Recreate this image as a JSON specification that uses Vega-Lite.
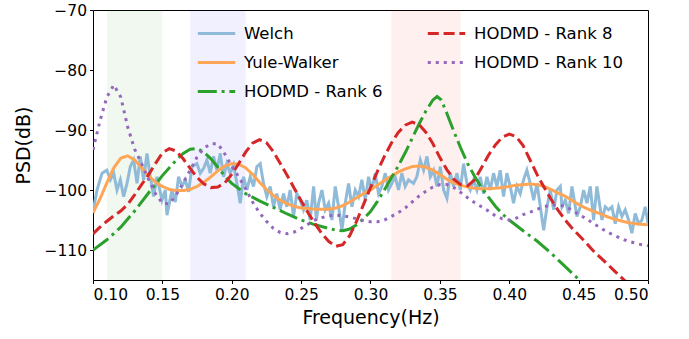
{
  "$schema": "https://vega.github.io/schema/vega-lite/v6.json",
  "width": 555,
  "height": 270,
  "autosize": {"type": "none"},
  "padding": {"left": 93, "top": 10, "right": 41, "bottom": 59},
  "background": "white",
  "config": {
    "font": "DejaVu Sans",
    "view": {"stroke": "#000", "strokeWidth": 1},
    "axis": {
      "domain": false,
      "grid": false,
      "ticks": true,
      "tickColor": "#000",
      "tickSize": 3.5,
      "tickWidth": 1,
      "labelFontSize": 15.5,
      "labelColor": "#000",
      "labelFont": "DejaVu Sans",
      "titleFont": "DejaVu Sans",
      "titleFontSize": 19,
      "titleFontWeight": "normal",
      "titleColor": "#000"
    }
  },
  "datasets": {
    "bands": [
      {"band": "g", "f0": 0.11, "f1": 0.15},
      {"band": "b", "f0": 0.17, "f1": 0.21},
      {"band": "r", "f0": 0.315, "f1": 0.365}
    ],
    "lines": [
      {"series": "Welch", "f": 0.1000, "v": -103.6},
      {"series": "Welch", "f": 0.1029, "v": -100.0},
      {"series": "Welch", "f": 0.1065, "v": -97.2},
      {"series": "Welch", "f": 0.1100, "v": -96.7},
      {"series": "Welch", "f": 0.1125, "v": -98.3},
      {"series": "Welch", "f": 0.1149, "v": -97.2},
      {"series": "Welch", "f": 0.1173, "v": -100.0},
      {"series": "Welch", "f": 0.1197, "v": -98.3},
      {"series": "Welch", "f": 0.1221, "v": -101.1},
      {"series": "Welch", "f": 0.1245, "v": -98.9},
      {"series": "Welch", "f": 0.1269, "v": -96.1},
      {"series": "Welch", "f": 0.1293, "v": -95.0},
      {"series": "Welch", "f": 0.1317, "v": -98.9},
      {"series": "Welch", "f": 0.1341, "v": -94.4},
      {"series": "Welch", "f": 0.1365, "v": -98.3},
      {"series": "Welch", "f": 0.1389, "v": -93.9},
      {"series": "Welch", "f": 0.1413, "v": -97.8},
      {"series": "Welch", "f": 0.1437, "v": -101.1},
      {"series": "Welch", "f": 0.1461, "v": -97.8},
      {"series": "Welch", "f": 0.1497, "v": -101.7},
      {"series": "Welch", "f": 0.1521, "v": -100.0},
      {"series": "Welch", "f": 0.1533, "v": -104.2},
      {"series": "Welch", "f": 0.1569, "v": -100.0},
      {"series": "Welch", "f": 0.1593, "v": -102.0},
      {"series": "Welch", "f": 0.1617, "v": -97.8},
      {"series": "Welch", "f": 0.1641, "v": -99.4},
      {"series": "Welch", "f": 0.1665, "v": -98.3},
      {"series": "Welch", "f": 0.1689, "v": -100.3},
      {"series": "Welch", "f": 0.1713, "v": -96.1},
      {"series": "Welch", "f": 0.1749, "v": -95.6},
      {"series": "Welch", "f": 0.1773, "v": -97.2},
      {"series": "Welch", "f": 0.1797, "v": -96.4},
      {"series": "Welch", "f": 0.1821, "v": -95.0},
      {"series": "Welch", "f": 0.1845, "v": -97.2},
      {"series": "Welch", "f": 0.1869, "v": -94.4},
      {"series": "Welch", "f": 0.1893, "v": -96.7},
      {"series": "Welch", "f": 0.1917, "v": -93.9},
      {"series": "Welch", "f": 0.1941, "v": -97.8},
      {"series": "Welch", "f": 0.1965, "v": -95.6},
      {"series": "Welch", "f": 0.1989, "v": -97.2},
      {"series": "Welch", "f": 0.2013, "v": -95.8},
      {"series": "Welch", "f": 0.2037, "v": -98.9},
      {"series": "Welch", "f": 0.2061, "v": -102.2},
      {"series": "Welch", "f": 0.2085, "v": -97.8},
      {"series": "Welch", "f": 0.2109, "v": -100.0},
      {"series": "Welch", "f": 0.2133, "v": -97.8},
      {"series": "Welch", "f": 0.2157, "v": -99.4},
      {"series": "Welch", "f": 0.2181, "v": -96.1},
      {"series": "Welch", "f": 0.2205, "v": -95.6},
      {"series": "Welch", "f": 0.2229, "v": -98.9},
      {"series": "Welch", "f": 0.2253, "v": -101.1},
      {"series": "Welch", "f": 0.2277, "v": -99.4},
      {"series": "Welch", "f": 0.2301, "v": -102.8},
      {"series": "Welch", "f": 0.2325, "v": -100.6},
      {"series": "Welch", "f": 0.2349, "v": -103.3},
      {"series": "Welch", "f": 0.2373, "v": -100.6},
      {"series": "Welch", "f": 0.2397, "v": -102.8},
      {"series": "Welch", "f": 0.2421, "v": -100.0},
      {"series": "Welch", "f": 0.2445, "v": -104.4},
      {"series": "Welch", "f": 0.2469, "v": -100.6},
      {"series": "Welch", "f": 0.2493, "v": -101.7},
      {"series": "Welch", "f": 0.2517, "v": -103.3},
      {"series": "Welch", "f": 0.2541, "v": -101.7},
      {"series": "Welch", "f": 0.2565, "v": -105.0},
      {"series": "Welch", "f": 0.2590, "v": -99.4},
      {"series": "Welch", "f": 0.2610, "v": -105.0},
      {"series": "Welch", "f": 0.2626, "v": -102.2},
      {"series": "Welch", "f": 0.2650, "v": -100.0},
      {"series": "Welch", "f": 0.2674, "v": -103.3},
      {"series": "Welch", "f": 0.2698, "v": -102.2},
      {"series": "Welch", "f": 0.2722, "v": -105.0},
      {"series": "Welch", "f": 0.2746, "v": -99.4},
      {"series": "Welch", "f": 0.2770, "v": -102.8},
      {"series": "Welch", "f": 0.2794, "v": -106.7},
      {"series": "Welch", "f": 0.2818, "v": -102.2},
      {"series": "Welch", "f": 0.2842, "v": -98.9},
      {"series": "Welch", "f": 0.2866, "v": -102.8},
      {"series": "Welch", "f": 0.2890, "v": -100.0},
      {"series": "Welch", "f": 0.2914, "v": -101.1},
      {"series": "Welch", "f": 0.2938, "v": -98.3},
      {"series": "Welch", "f": 0.2962, "v": -101.7},
      {"series": "Welch", "f": 0.2986, "v": -97.8},
      {"series": "Welch", "f": 0.3010, "v": -100.0},
      {"series": "Welch", "f": 0.3034, "v": -97.2},
      {"series": "Welch", "f": 0.3058, "v": -100.6},
      {"series": "Welch", "f": 0.3082, "v": -99.4},
      {"series": "Welch", "f": 0.3106, "v": -97.2},
      {"series": "Welch", "f": 0.3130, "v": -100.0},
      {"series": "Welch", "f": 0.3154, "v": -98.9},
      {"series": "Welch", "f": 0.3178, "v": -97.8},
      {"series": "Welch", "f": 0.3202, "v": -100.0},
      {"series": "Welch", "f": 0.3226, "v": -97.2},
      {"series": "Welch", "f": 0.3250, "v": -99.4},
      {"series": "Welch", "f": 0.3274, "v": -98.3},
      {"series": "Welch", "f": 0.3310, "v": -98.9},
      {"series": "Welch", "f": 0.3334, "v": -97.8},
      {"series": "Welch", "f": 0.3359, "v": -95.0},
      {"series": "Welch", "f": 0.3383, "v": -96.7},
      {"series": "Welch", "f": 0.3407, "v": -94.4},
      {"series": "Welch", "f": 0.3431, "v": -97.8},
      {"series": "Welch", "f": 0.3455, "v": -96.7},
      {"series": "Welch", "f": 0.3479, "v": -99.4},
      {"series": "Welch", "f": 0.3503, "v": -96.1},
      {"series": "Welch", "f": 0.3527, "v": -100.0},
      {"series": "Welch", "f": 0.3551, "v": -101.4},
      {"series": "Welch", "f": 0.3575, "v": -97.2},
      {"series": "Welch", "f": 0.3599, "v": -99.4},
      {"series": "Welch", "f": 0.3623, "v": -97.2},
      {"series": "Welch", "f": 0.3647, "v": -100.0},
      {"series": "Welch", "f": 0.3671, "v": -95.6},
      {"series": "Welch", "f": 0.3695, "v": -98.9},
      {"series": "Welch", "f": 0.3719, "v": -100.0},
      {"series": "Welch", "f": 0.3743, "v": -98.3},
      {"series": "Welch", "f": 0.3767, "v": -100.0},
      {"series": "Welch", "f": 0.3791, "v": -97.8},
      {"series": "Welch", "f": 0.3815, "v": -100.6},
      {"series": "Welch", "f": 0.3839, "v": -97.8},
      {"series": "Welch", "f": 0.3863, "v": -100.0},
      {"series": "Welch", "f": 0.3887, "v": -97.2},
      {"series": "Welch", "f": 0.3911, "v": -99.4},
      {"series": "Welch", "f": 0.3935, "v": -96.7},
      {"series": "Welch", "f": 0.3959, "v": -101.1},
      {"series": "Welch", "f": 0.3983, "v": -97.2},
      {"series": "Welch", "f": 0.4007, "v": -99.4},
      {"series": "Welch", "f": 0.4031, "v": -102.2},
      {"series": "Welch", "f": 0.4055, "v": -99.4},
      {"series": "Welch", "f": 0.4079, "v": -100.6},
      {"series": "Welch", "f": 0.4103, "v": -98.3},
      {"series": "Welch", "f": 0.4127, "v": -96.7},
      {"series": "Welch", "f": 0.4151, "v": -98.9},
      {"series": "Welch", "f": 0.4176, "v": -101.7},
      {"series": "Welch", "f": 0.4200, "v": -98.9},
      {"series": "Welch", "f": 0.4224, "v": -102.8},
      {"series": "Welch", "f": 0.4248, "v": -106.7},
      {"series": "Welch", "f": 0.4272, "v": -102.8},
      {"series": "Welch", "f": 0.4296, "v": -100.0},
      {"series": "Welch", "f": 0.4320, "v": -103.3},
      {"series": "Welch", "f": 0.4344, "v": -100.0},
      {"series": "Welch", "f": 0.4368, "v": -99.4},
      {"series": "Welch", "f": 0.4380, "v": -102.8},
      {"series": "Welch", "f": 0.4404, "v": -101.7},
      {"series": "Welch", "f": 0.4428, "v": -103.9},
      {"series": "Welch", "f": 0.4452, "v": -99.4},
      {"series": "Welch", "f": 0.4488, "v": -104.4},
      {"series": "Welch", "f": 0.4512, "v": -102.8},
      {"series": "Welch", "f": 0.4536, "v": -100.0},
      {"series": "Welch", "f": 0.4560, "v": -102.2},
      {"series": "Welch", "f": 0.4584, "v": -99.4},
      {"series": "Welch", "f": 0.4608, "v": -105.0},
      {"series": "Welch", "f": 0.4632, "v": -99.4},
      {"series": "Welch", "f": 0.4668, "v": -105.0},
      {"series": "Welch", "f": 0.4692, "v": -102.8},
      {"series": "Welch", "f": 0.4716, "v": -103.3},
      {"series": "Welch", "f": 0.4740, "v": -102.8},
      {"series": "Welch", "f": 0.4764, "v": -105.6},
      {"series": "Welch", "f": 0.4788, "v": -102.8},
      {"series": "Welch", "f": 0.4812, "v": -104.4},
      {"series": "Welch", "f": 0.4836, "v": -103.3},
      {"series": "Welch", "f": 0.4860, "v": -105.0},
      {"series": "Welch", "f": 0.4884, "v": -107.2},
      {"series": "Welch", "f": 0.4908, "v": -103.9},
      {"series": "Welch", "f": 0.4932, "v": -105.6},
      {"series": "Welch", "f": 0.4956, "v": -105.0},
      {"series": "Welch", "f": 0.4980, "v": -102.8},
      {"series": "Welch", "f": 0.5000, "v": -105.5},

      {"series": "Yule-Walker", "f": 0.100, "v": -103.8},
      {"series": "Yule-Walker", "f": 0.105, "v": -101.5},
      {"series": "Yule-Walker", "f": 0.110, "v": -98.8},
      {"series": "Yule-Walker", "f": 0.115, "v": -96.3},
      {"series": "Yule-Walker", "f": 0.120, "v": -94.7},
      {"series": "Yule-Walker", "f": 0.125, "v": -94.3},
      {"series": "Yule-Walker", "f": 0.130, "v": -95.0},
      {"series": "Yule-Walker", "f": 0.135, "v": -96.3},
      {"series": "Yule-Walker", "f": 0.140, "v": -97.6},
      {"series": "Yule-Walker", "f": 0.145, "v": -98.7},
      {"series": "Yule-Walker", "f": 0.150, "v": -99.4},
      {"series": "Yule-Walker", "f": 0.155, "v": -99.9},
      {"series": "Yule-Walker", "f": 0.160, "v": -100.1},
      {"series": "Yule-Walker", "f": 0.165, "v": -100.1},
      {"series": "Yule-Walker", "f": 0.170, "v": -99.9},
      {"series": "Yule-Walker", "f": 0.175, "v": -99.4},
      {"series": "Yule-Walker", "f": 0.180, "v": -98.7},
      {"series": "Yule-Walker", "f": 0.185, "v": -97.8},
      {"series": "Yule-Walker", "f": 0.190, "v": -96.8},
      {"series": "Yule-Walker", "f": 0.195, "v": -96.0},
      {"series": "Yule-Walker", "f": 0.200, "v": -95.6},
      {"series": "Yule-Walker", "f": 0.205, "v": -95.7},
      {"series": "Yule-Walker", "f": 0.210, "v": -96.3},
      {"series": "Yule-Walker", "f": 0.215, "v": -97.4},
      {"series": "Yule-Walker", "f": 0.220, "v": -98.7},
      {"series": "Yule-Walker", "f": 0.225, "v": -99.9},
      {"series": "Yule-Walker", "f": 0.230, "v": -100.9},
      {"series": "Yule-Walker", "f": 0.235, "v": -101.7},
      {"series": "Yule-Walker", "f": 0.240, "v": -102.3},
      {"series": "Yule-Walker", "f": 0.245, "v": -102.7},
      {"series": "Yule-Walker", "f": 0.250, "v": -103.0},
      {"series": "Yule-Walker", "f": 0.255, "v": -103.1},
      {"series": "Yule-Walker", "f": 0.260, "v": -103.2},
      {"series": "Yule-Walker", "f": 0.265, "v": -103.2},
      {"series": "Yule-Walker", "f": 0.270, "v": -103.2},
      {"series": "Yule-Walker", "f": 0.275, "v": -103.0},
      {"series": "Yule-Walker", "f": 0.280, "v": -102.6},
      {"series": "Yule-Walker", "f": 0.285, "v": -102.0},
      {"series": "Yule-Walker", "f": 0.290, "v": -101.3},
      {"series": "Yule-Walker", "f": 0.295, "v": -100.6},
      {"series": "Yule-Walker", "f": 0.300, "v": -100.0},
      {"series": "Yule-Walker", "f": 0.305, "v": -99.2},
      {"series": "Yule-Walker", "f": 0.310, "v": -98.4},
      {"series": "Yule-Walker", "f": 0.315, "v": -97.7},
      {"series": "Yule-Walker", "f": 0.320, "v": -97.0},
      {"series": "Yule-Walker", "f": 0.325, "v": -96.5},
      {"series": "Yule-Walker", "f": 0.330, "v": -96.1},
      {"series": "Yule-Walker", "f": 0.335, "v": -96.0},
      {"series": "Yule-Walker", "f": 0.340, "v": -96.2},
      {"series": "Yule-Walker", "f": 0.345, "v": -96.7},
      {"series": "Yule-Walker", "f": 0.350, "v": -97.4},
      {"series": "Yule-Walker", "f": 0.355, "v": -98.2},
      {"series": "Yule-Walker", "f": 0.360, "v": -98.8},
      {"series": "Yule-Walker", "f": 0.365, "v": -99.2},
      {"series": "Yule-Walker", "f": 0.370, "v": -99.5},
      {"series": "Yule-Walker", "f": 0.375, "v": -99.7},
      {"series": "Yule-Walker", "f": 0.380, "v": -99.8},
      {"series": "Yule-Walker", "f": 0.385, "v": -99.8},
      {"series": "Yule-Walker", "f": 0.390, "v": -99.7},
      {"series": "Yule-Walker", "f": 0.395, "v": -99.6},
      {"series": "Yule-Walker", "f": 0.400, "v": -99.4},
      {"series": "Yule-Walker", "f": 0.405, "v": -99.2},
      {"series": "Yule-Walker", "f": 0.410, "v": -99.1},
      {"series": "Yule-Walker", "f": 0.415, "v": -99.0},
      {"series": "Yule-Walker", "f": 0.420, "v": -99.1},
      {"series": "Yule-Walker", "f": 0.425, "v": -99.4},
      {"series": "Yule-Walker", "f": 0.430, "v": -99.9},
      {"series": "Yule-Walker", "f": 0.435, "v": -100.5},
      {"series": "Yule-Walker", "f": 0.440, "v": -101.0},
      {"series": "Yule-Walker", "f": 0.445, "v": -101.7},
      {"series": "Yule-Walker", "f": 0.450, "v": -102.4},
      {"series": "Yule-Walker", "f": 0.455, "v": -103.0},
      {"series": "Yule-Walker", "f": 0.460, "v": -103.5},
      {"series": "Yule-Walker", "f": 0.465, "v": -103.9},
      {"series": "Yule-Walker", "f": 0.470, "v": -104.4},
      {"series": "Yule-Walker", "f": 0.475, "v": -104.8},
      {"series": "Yule-Walker", "f": 0.480, "v": -105.1},
      {"series": "Yule-Walker", "f": 0.485, "v": -105.4},
      {"series": "Yule-Walker", "f": 0.490, "v": -105.6},
      {"series": "Yule-Walker", "f": 0.495, "v": -105.7},
      {"series": "Yule-Walker", "f": 0.500, "v": -105.8},

      {"series": "HODMD - Rank 6", "f": 0.100, "v": -110.0},
      {"series": "HODMD - Rank 6", "f": 0.110, "v": -108.3},
      {"series": "HODMD - Rank 6", "f": 0.120, "v": -106.2},
      {"series": "HODMD - Rank 6", "f": 0.130, "v": -103.5},
      {"series": "HODMD - Rank 6", "f": 0.140, "v": -100.5},
      {"series": "HODMD - Rank 6", "f": 0.150, "v": -97.6},
      {"series": "HODMD - Rank 6", "f": 0.160, "v": -95.0},
      {"series": "HODMD - Rank 6", "f": 0.165, "v": -93.9},
      {"series": "HODMD - Rank 6", "f": 0.170, "v": -93.2},
      {"series": "HODMD - Rank 6", "f": 0.175, "v": -93.1},
      {"series": "HODMD - Rank 6", "f": 0.180, "v": -93.7},
      {"series": "HODMD - Rank 6", "f": 0.185, "v": -94.8},
      {"series": "HODMD - Rank 6", "f": 0.190, "v": -96.2},
      {"series": "HODMD - Rank 6", "f": 0.195, "v": -97.7},
      {"series": "HODMD - Rank 6", "f": 0.200, "v": -98.9},
      {"series": "HODMD - Rank 6", "f": 0.210, "v": -100.6},
      {"series": "HODMD - Rank 6", "f": 0.220, "v": -101.8},
      {"series": "HODMD - Rank 6", "f": 0.230, "v": -102.9},
      {"series": "HODMD - Rank 6", "f": 0.240, "v": -104.0},
      {"series": "HODMD - Rank 6", "f": 0.250, "v": -105.0},
      {"series": "HODMD - Rank 6", "f": 0.260, "v": -105.8},
      {"series": "HODMD - Rank 6", "f": 0.270, "v": -106.4},
      {"series": "HODMD - Rank 6", "f": 0.275, "v": -106.7},
      {"series": "HODMD - Rank 6", "f": 0.280, "v": -106.8},
      {"series": "HODMD - Rank 6", "f": 0.285, "v": -106.5},
      {"series": "HODMD - Rank 6", "f": 0.290, "v": -105.8},
      {"series": "HODMD - Rank 6", "f": 0.295, "v": -104.8},
      {"series": "HODMD - Rank 6", "f": 0.300, "v": -103.6},
      {"series": "HODMD - Rank 6", "f": 0.305, "v": -101.9},
      {"series": "HODMD - Rank 6", "f": 0.310, "v": -100.0},
      {"series": "HODMD - Rank 6", "f": 0.315, "v": -98.0},
      {"series": "HODMD - Rank 6", "f": 0.320, "v": -96.0},
      {"series": "HODMD - Rank 6", "f": 0.325, "v": -93.8},
      {"series": "HODMD - Rank 6", "f": 0.330, "v": -91.4},
      {"series": "HODMD - Rank 6", "f": 0.335, "v": -89.0},
      {"series": "HODMD - Rank 6", "f": 0.340, "v": -86.8},
      {"series": "HODMD - Rank 6", "f": 0.345, "v": -85.0},
      {"series": "HODMD - Rank 6", "f": 0.348, "v": -84.4},
      {"series": "HODMD - Rank 6", "f": 0.351, "v": -85.0},
      {"series": "HODMD - Rank 6", "f": 0.355, "v": -87.2},
      {"series": "HODMD - Rank 6", "f": 0.360, "v": -90.2},
      {"series": "HODMD - Rank 6", "f": 0.365, "v": -93.0},
      {"series": "HODMD - Rank 6", "f": 0.370, "v": -95.6},
      {"series": "HODMD - Rank 6", "f": 0.375, "v": -97.7},
      {"series": "HODMD - Rank 6", "f": 0.380, "v": -99.6},
      {"series": "HODMD - Rank 6", "f": 0.385, "v": -101.2},
      {"series": "HODMD - Rank 6", "f": 0.390, "v": -102.7},
      {"series": "HODMD - Rank 6", "f": 0.395, "v": -104.0},
      {"series": "HODMD - Rank 6", "f": 0.400, "v": -105.0},
      {"series": "HODMD - Rank 6", "f": 0.410, "v": -106.8},
      {"series": "HODMD - Rank 6", "f": 0.420, "v": -108.5},
      {"series": "HODMD - Rank 6", "f": 0.430, "v": -110.5},
      {"series": "HODMD - Rank 6", "f": 0.440, "v": -112.7},
      {"series": "HODMD - Rank 6", "f": 0.450, "v": -114.9},
      {"series": "HODMD - Rank 6", "f": 0.460, "v": -117.0},
      {"series": "HODMD - Rank 6", "f": 0.480, "v": -121.0},
      {"series": "HODMD - Rank 6", "f": 0.500, "v": -125.0},

      {"series": "HODMD - Rank 8", "f": 0.100, "v": -107.3},
      {"series": "HODMD - Rank 8", "f": 0.105, "v": -106.2},
      {"series": "HODMD - Rank 8", "f": 0.110, "v": -105.2},
      {"series": "HODMD - Rank 8", "f": 0.115, "v": -104.3},
      {"series": "HODMD - Rank 8", "f": 0.120, "v": -103.5},
      {"series": "HODMD - Rank 8", "f": 0.125, "v": -102.4},
      {"series": "HODMD - Rank 8", "f": 0.130, "v": -100.8},
      {"series": "HODMD - Rank 8", "f": 0.135, "v": -99.1},
      {"series": "HODMD - Rank 8", "f": 0.140, "v": -97.5},
      {"series": "HODMD - Rank 8", "f": 0.145, "v": -95.6},
      {"series": "HODMD - Rank 8", "f": 0.150, "v": -93.8},
      {"series": "HODMD - Rank 8", "f": 0.155, "v": -93.1},
      {"series": "HODMD - Rank 8", "f": 0.160, "v": -93.5},
      {"series": "HODMD - Rank 8", "f": 0.165, "v": -94.8},
      {"series": "HODMD - Rank 8", "f": 0.170, "v": -96.4},
      {"series": "HODMD - Rank 8", "f": 0.175, "v": -97.9},
      {"series": "HODMD - Rank 8", "f": 0.180, "v": -99.0},
      {"series": "HODMD - Rank 8", "f": 0.185, "v": -99.6},
      {"series": "HODMD - Rank 8", "f": 0.190, "v": -99.5},
      {"series": "HODMD - Rank 8", "f": 0.195, "v": -98.8},
      {"series": "HODMD - Rank 8", "f": 0.200, "v": -97.4},
      {"series": "HODMD - Rank 8", "f": 0.205, "v": -95.6},
      {"series": "HODMD - Rank 8", "f": 0.210, "v": -93.7},
      {"series": "HODMD - Rank 8", "f": 0.215, "v": -92.2},
      {"series": "HODMD - Rank 8", "f": 0.220, "v": -91.6},
      {"series": "HODMD - Rank 8", "f": 0.225, "v": -92.1},
      {"series": "HODMD - Rank 8", "f": 0.230, "v": -93.6},
      {"series": "HODMD - Rank 8", "f": 0.235, "v": -95.6},
      {"series": "HODMD - Rank 8", "f": 0.240, "v": -97.6},
      {"series": "HODMD - Rank 8", "f": 0.245, "v": -99.7},
      {"series": "HODMD - Rank 8", "f": 0.250, "v": -101.8},
      {"series": "HODMD - Rank 8", "f": 0.255, "v": -103.8},
      {"series": "HODMD - Rank 8", "f": 0.260, "v": -105.6},
      {"series": "HODMD - Rank 8", "f": 0.265, "v": -107.3},
      {"series": "HODMD - Rank 8", "f": 0.270, "v": -108.6},
      {"series": "HODMD - Rank 8", "f": 0.275, "v": -109.4},
      {"series": "HODMD - Rank 8", "f": 0.280, "v": -109.1},
      {"series": "HODMD - Rank 8", "f": 0.285, "v": -107.6},
      {"series": "HODMD - Rank 8", "f": 0.290, "v": -105.2},
      {"series": "HODMD - Rank 8", "f": 0.295, "v": -102.4},
      {"series": "HODMD - Rank 8", "f": 0.300, "v": -99.6},
      {"series": "HODMD - Rank 8", "f": 0.305, "v": -96.9},
      {"series": "HODMD - Rank 8", "f": 0.310, "v": -94.4},
      {"series": "HODMD - Rank 8", "f": 0.315, "v": -92.2},
      {"series": "HODMD - Rank 8", "f": 0.320, "v": -90.4},
      {"series": "HODMD - Rank 8", "f": 0.325, "v": -89.2},
      {"series": "HODMD - Rank 8", "f": 0.330, "v": -88.7},
      {"series": "HODMD - Rank 8", "f": 0.335, "v": -89.1},
      {"series": "HODMD - Rank 8", "f": 0.340, "v": -90.4},
      {"series": "HODMD - Rank 8", "f": 0.345, "v": -92.3},
      {"series": "HODMD - Rank 8", "f": 0.350, "v": -94.6},
      {"series": "HODMD - Rank 8", "f": 0.355, "v": -96.6},
      {"series": "HODMD - Rank 8", "f": 0.360, "v": -98.2},
      {"series": "HODMD - Rank 8", "f": 0.365, "v": -99.1},
      {"series": "HODMD - Rank 8", "f": 0.370, "v": -99.3},
      {"series": "HODMD - Rank 8", "f": 0.375, "v": -98.3},
      {"series": "HODMD - Rank 8", "f": 0.380, "v": -96.3},
      {"series": "HODMD - Rank 8", "f": 0.385, "v": -94.2},
      {"series": "HODMD - Rank 8", "f": 0.390, "v": -92.5},
      {"series": "HODMD - Rank 8", "f": 0.395, "v": -91.2},
      {"series": "HODMD - Rank 8", "f": 0.400, "v": -90.7},
      {"series": "HODMD - Rank 8", "f": 0.405, "v": -91.1},
      {"series": "HODMD - Rank 8", "f": 0.410, "v": -92.6},
      {"series": "HODMD - Rank 8", "f": 0.415, "v": -95.0},
      {"series": "HODMD - Rank 8", "f": 0.420, "v": -97.4},
      {"series": "HODMD - Rank 8", "f": 0.425, "v": -99.5},
      {"series": "HODMD - Rank 8", "f": 0.430, "v": -101.5},
      {"series": "HODMD - Rank 8", "f": 0.435, "v": -103.3},
      {"series": "HODMD - Rank 8", "f": 0.440, "v": -104.9},
      {"series": "HODMD - Rank 8", "f": 0.445, "v": -106.3},
      {"series": "HODMD - Rank 8", "f": 0.450, "v": -107.5},
      {"series": "HODMD - Rank 8", "f": 0.455, "v": -108.7},
      {"series": "HODMD - Rank 8", "f": 0.460, "v": -110.0},
      {"series": "HODMD - Rank 8", "f": 0.465, "v": -111.1},
      {"series": "HODMD - Rank 8", "f": 0.470, "v": -112.2},
      {"series": "HODMD - Rank 8", "f": 0.475, "v": -113.3},
      {"series": "HODMD - Rank 8", "f": 0.480, "v": -114.4},
      {"series": "HODMD - Rank 8", "f": 0.485, "v": -115.5},
      {"series": "HODMD - Rank 8", "f": 0.490, "v": -116.6},
      {"series": "HODMD - Rank 8", "f": 0.500, "v": -118.8},

      {"series": "HODMD - Rank 10", "f": 0.100, "v": -93.3},
      {"series": "HODMD - Rank 10", "f": 0.105, "v": -88.5},
      {"series": "HODMD - Rank 10", "f": 0.110, "v": -84.5},
      {"series": "HODMD - Rank 10", "f": 0.115, "v": -82.5},
      {"series": "HODMD - Rank 10", "f": 0.120, "v": -84.5},
      {"series": "HODMD - Rank 10", "f": 0.125, "v": -89.5},
      {"series": "HODMD - Rank 10", "f": 0.130, "v": -93.2},
      {"series": "HODMD - Rank 10", "f": 0.135, "v": -95.6},
      {"series": "HODMD - Rank 10", "f": 0.140, "v": -98.2},
      {"series": "HODMD - Rank 10", "f": 0.145, "v": -100.6},
      {"series": "HODMD - Rank 10", "f": 0.150, "v": -102.2},
      {"series": "HODMD - Rank 10", "f": 0.155, "v": -102.3},
      {"series": "HODMD - Rank 10", "f": 0.160, "v": -100.8},
      {"series": "HODMD - Rank 10", "f": 0.165, "v": -98.8},
      {"series": "HODMD - Rank 10", "f": 0.170, "v": -96.7},
      {"series": "HODMD - Rank 10", "f": 0.175, "v": -94.5},
      {"series": "HODMD - Rank 10", "f": 0.180, "v": -93.0},
      {"series": "HODMD - Rank 10", "f": 0.185, "v": -92.3},
      {"series": "HODMD - Rank 10", "f": 0.190, "v": -92.3},
      {"series": "HODMD - Rank 10", "f": 0.195, "v": -94.0},
      {"series": "HODMD - Rank 10", "f": 0.200, "v": -96.0},
      {"series": "HODMD - Rank 10", "f": 0.205, "v": -97.8},
      {"series": "HODMD - Rank 10", "f": 0.210, "v": -99.8},
      {"series": "HODMD - Rank 10", "f": 0.215, "v": -102.0},
      {"series": "HODMD - Rank 10", "f": 0.220, "v": -103.8},
      {"series": "HODMD - Rank 10", "f": 0.225, "v": -105.2},
      {"series": "HODMD - Rank 10", "f": 0.230, "v": -106.4},
      {"series": "HODMD - Rank 10", "f": 0.235, "v": -107.1},
      {"series": "HODMD - Rank 10", "f": 0.240, "v": -107.3},
      {"series": "HODMD - Rank 10", "f": 0.245, "v": -107.0},
      {"series": "HODMD - Rank 10", "f": 0.250, "v": -106.4},
      {"series": "HODMD - Rank 10", "f": 0.255, "v": -105.7},
      {"series": "HODMD - Rank 10", "f": 0.260, "v": -105.0},
      {"series": "HODMD - Rank 10", "f": 0.265, "v": -104.6},
      {"series": "HODMD - Rank 10", "f": 0.270, "v": -104.3},
      {"series": "HODMD - Rank 10", "f": 0.275, "v": -104.2},
      {"series": "HODMD - Rank 10", "f": 0.280, "v": -104.3},
      {"series": "HODMD - Rank 10", "f": 0.285, "v": -104.5},
      {"series": "HODMD - Rank 10", "f": 0.290, "v": -104.8},
      {"series": "HODMD - Rank 10", "f": 0.295, "v": -105.1},
      {"series": "HODMD - Rank 10", "f": 0.300, "v": -105.3},
      {"series": "HODMD - Rank 10", "f": 0.305, "v": -105.3},
      {"series": "HODMD - Rank 10", "f": 0.310, "v": -105.0},
      {"series": "HODMD - Rank 10", "f": 0.315, "v": -104.4},
      {"series": "HODMD - Rank 10", "f": 0.320, "v": -103.8},
      {"series": "HODMD - Rank 10", "f": 0.325, "v": -103.0},
      {"series": "HODMD - Rank 10", "f": 0.330, "v": -102.0},
      {"series": "HODMD - Rank 10", "f": 0.335, "v": -101.0},
      {"series": "HODMD - Rank 10", "f": 0.340, "v": -100.2},
      {"series": "HODMD - Rank 10", "f": 0.345, "v": -99.5},
      {"series": "HODMD - Rank 10", "f": 0.350, "v": -99.1},
      {"series": "HODMD - Rank 10", "f": 0.355, "v": -99.1},
      {"series": "HODMD - Rank 10", "f": 0.360, "v": -99.6},
      {"series": "HODMD - Rank 10", "f": 0.365, "v": -100.4},
      {"series": "HODMD - Rank 10", "f": 0.370, "v": -101.3},
      {"series": "HODMD - Rank 10", "f": 0.375, "v": -102.1},
      {"series": "HODMD - Rank 10", "f": 0.380, "v": -102.8},
      {"series": "HODMD - Rank 10", "f": 0.385, "v": -103.5},
      {"series": "HODMD - Rank 10", "f": 0.390, "v": -104.3},
      {"series": "HODMD - Rank 10", "f": 0.395, "v": -104.8},
      {"series": "HODMD - Rank 10", "f": 0.400, "v": -105.0},
      {"series": "HODMD - Rank 10", "f": 0.405, "v": -104.7},
      {"series": "HODMD - Rank 10", "f": 0.410, "v": -104.1},
      {"series": "HODMD - Rank 10", "f": 0.415, "v": -103.7},
      {"series": "HODMD - Rank 10", "f": 0.420, "v": -103.2},
      {"series": "HODMD - Rank 10", "f": 0.425, "v": -102.8},
      {"series": "HODMD - Rank 10", "f": 0.430, "v": -102.5},
      {"series": "HODMD - Rank 10", "f": 0.435, "v": -102.5},
      {"series": "HODMD - Rank 10", "f": 0.440, "v": -102.7},
      {"series": "HODMD - Rank 10", "f": 0.445, "v": -103.3},
      {"series": "HODMD - Rank 10", "f": 0.450, "v": -104.1},
      {"series": "HODMD - Rank 10", "f": 0.455, "v": -104.7},
      {"series": "HODMD - Rank 10", "f": 0.460, "v": -105.5},
      {"series": "HODMD - Rank 10", "f": 0.465, "v": -106.2},
      {"series": "HODMD - Rank 10", "f": 0.470, "v": -106.9},
      {"series": "HODMD - Rank 10", "f": 0.475, "v": -107.5},
      {"series": "HODMD - Rank 10", "f": 0.480, "v": -108.0},
      {"series": "HODMD - Rank 10", "f": 0.485, "v": -108.5},
      {"series": "HODMD - Rank 10", "f": 0.490, "v": -108.8},
      {"series": "HODMD - Rank 10", "f": 0.495, "v": -109.1},
      {"series": "HODMD - Rank 10", "f": 0.500, "v": -109.3}
    ]
  },
  "layer": [
    {
      "data": {"name": "bands"},
      "mark": {"type": "rect", "opacity": 0.06},
      "encoding": {
        "x": {"field": "f0", "type": "quantitative", "title": "Frequency(Hz)"},
        "x2": {"field": "f1"},
        "fill": {"field": "band", "type": "nominal", "scale": {"domain": ["g", "b", "r"], "range": ["#008000", "#0000ff", "#ff0000"]}, "legend": null}
      }
    },
    {
      "data": {"name": "lines"},
      "encoding": {
        "x": {"field": "f", "type": "quantitative", "title": "Frequency(Hz)",
          "scale": {"domain": [0.1, 0.5], "nice": false, "zero": false},
          "axis": {"values": [0.1, 0.15, 0.2, 0.25, 0.3, 0.35, 0.4, 0.45, 0.5], "format": ".2f", "labelPadding": 4, "titlePadding": 5}},
        "y": {"field": "v", "type": "quantitative", "title": "PSD(dB)",
          "scale": {"domain": [-115, -70], "nice": false, "zero": false},
          "axis": {"values": [-110, -100, -90, -80, -70], "format": "d", "labelPadding": 3, "titlePadding": 10}},
        "color": {"field": "series", "type": "nominal",
          "scale": {"domain": ["Welch", "Yule-Walker", "HODMD - Rank 6", "HODMD - Rank 8", "HODMD - Rank 10"],
                    "range": ["#8fbbd9", "#ffa556", "#2ca02c", "#d62728", "#9467bd"]},
          "legend": {"title": null, "orient": "none", "legendX": 103, "legendY": 3, "columns": 2, "columnPadding": 38, "rowPadding": -2,
                     "labelFontSize": 16.5, "labelColor": "#000", "labelFont": "DejaVu Sans", "labelOffset": 7,
                     "symbolType": "stroke", "symbolSize": 1400, "symbolStrokeWidth": 3, "padding": 0, "labelLimit": 300}},
        "strokeDash": {"field": "series", "type": "nominal",
          "scale": {"domain": ["Welch", "Yule-Walker", "HODMD - Rank 6", "HODMD - Rank 8", "HODMD - Rank 10"],
                    "range": [[1, 0], [1, 0], [19, 4.8, 3, 4.8], [11, 4.8], [3, 5]]}}
      },
      "layer": [
        {"transform": [{"filter": "datum.series === 'Welch'"}], "mark": {"type": "line", "strokeWidth": 3, "clip": true, "strokeCap": "butt"}},
        {"transform": [{"filter": "datum.series === 'Yule-Walker'"}], "mark": {"type": "line", "strokeWidth": 3, "clip": true, "strokeCap": "butt"}},
        {"transform": [{"filter": "datum.series === 'HODMD - Rank 6'"}], "mark": {"type": "line", "strokeWidth": 3, "clip": true, "strokeCap": "butt"}},
        {"transform": [{"filter": "datum.series === 'HODMD - Rank 8'"}], "mark": {"type": "line", "strokeWidth": 3, "clip": true, "strokeCap": "butt"}},
        {"transform": [{"filter": "datum.series === 'HODMD - Rank 10'"}], "mark": {"type": "line", "strokeWidth": 3, "clip": true, "strokeCap": "butt"}}
      ]
    }
  ]
}
